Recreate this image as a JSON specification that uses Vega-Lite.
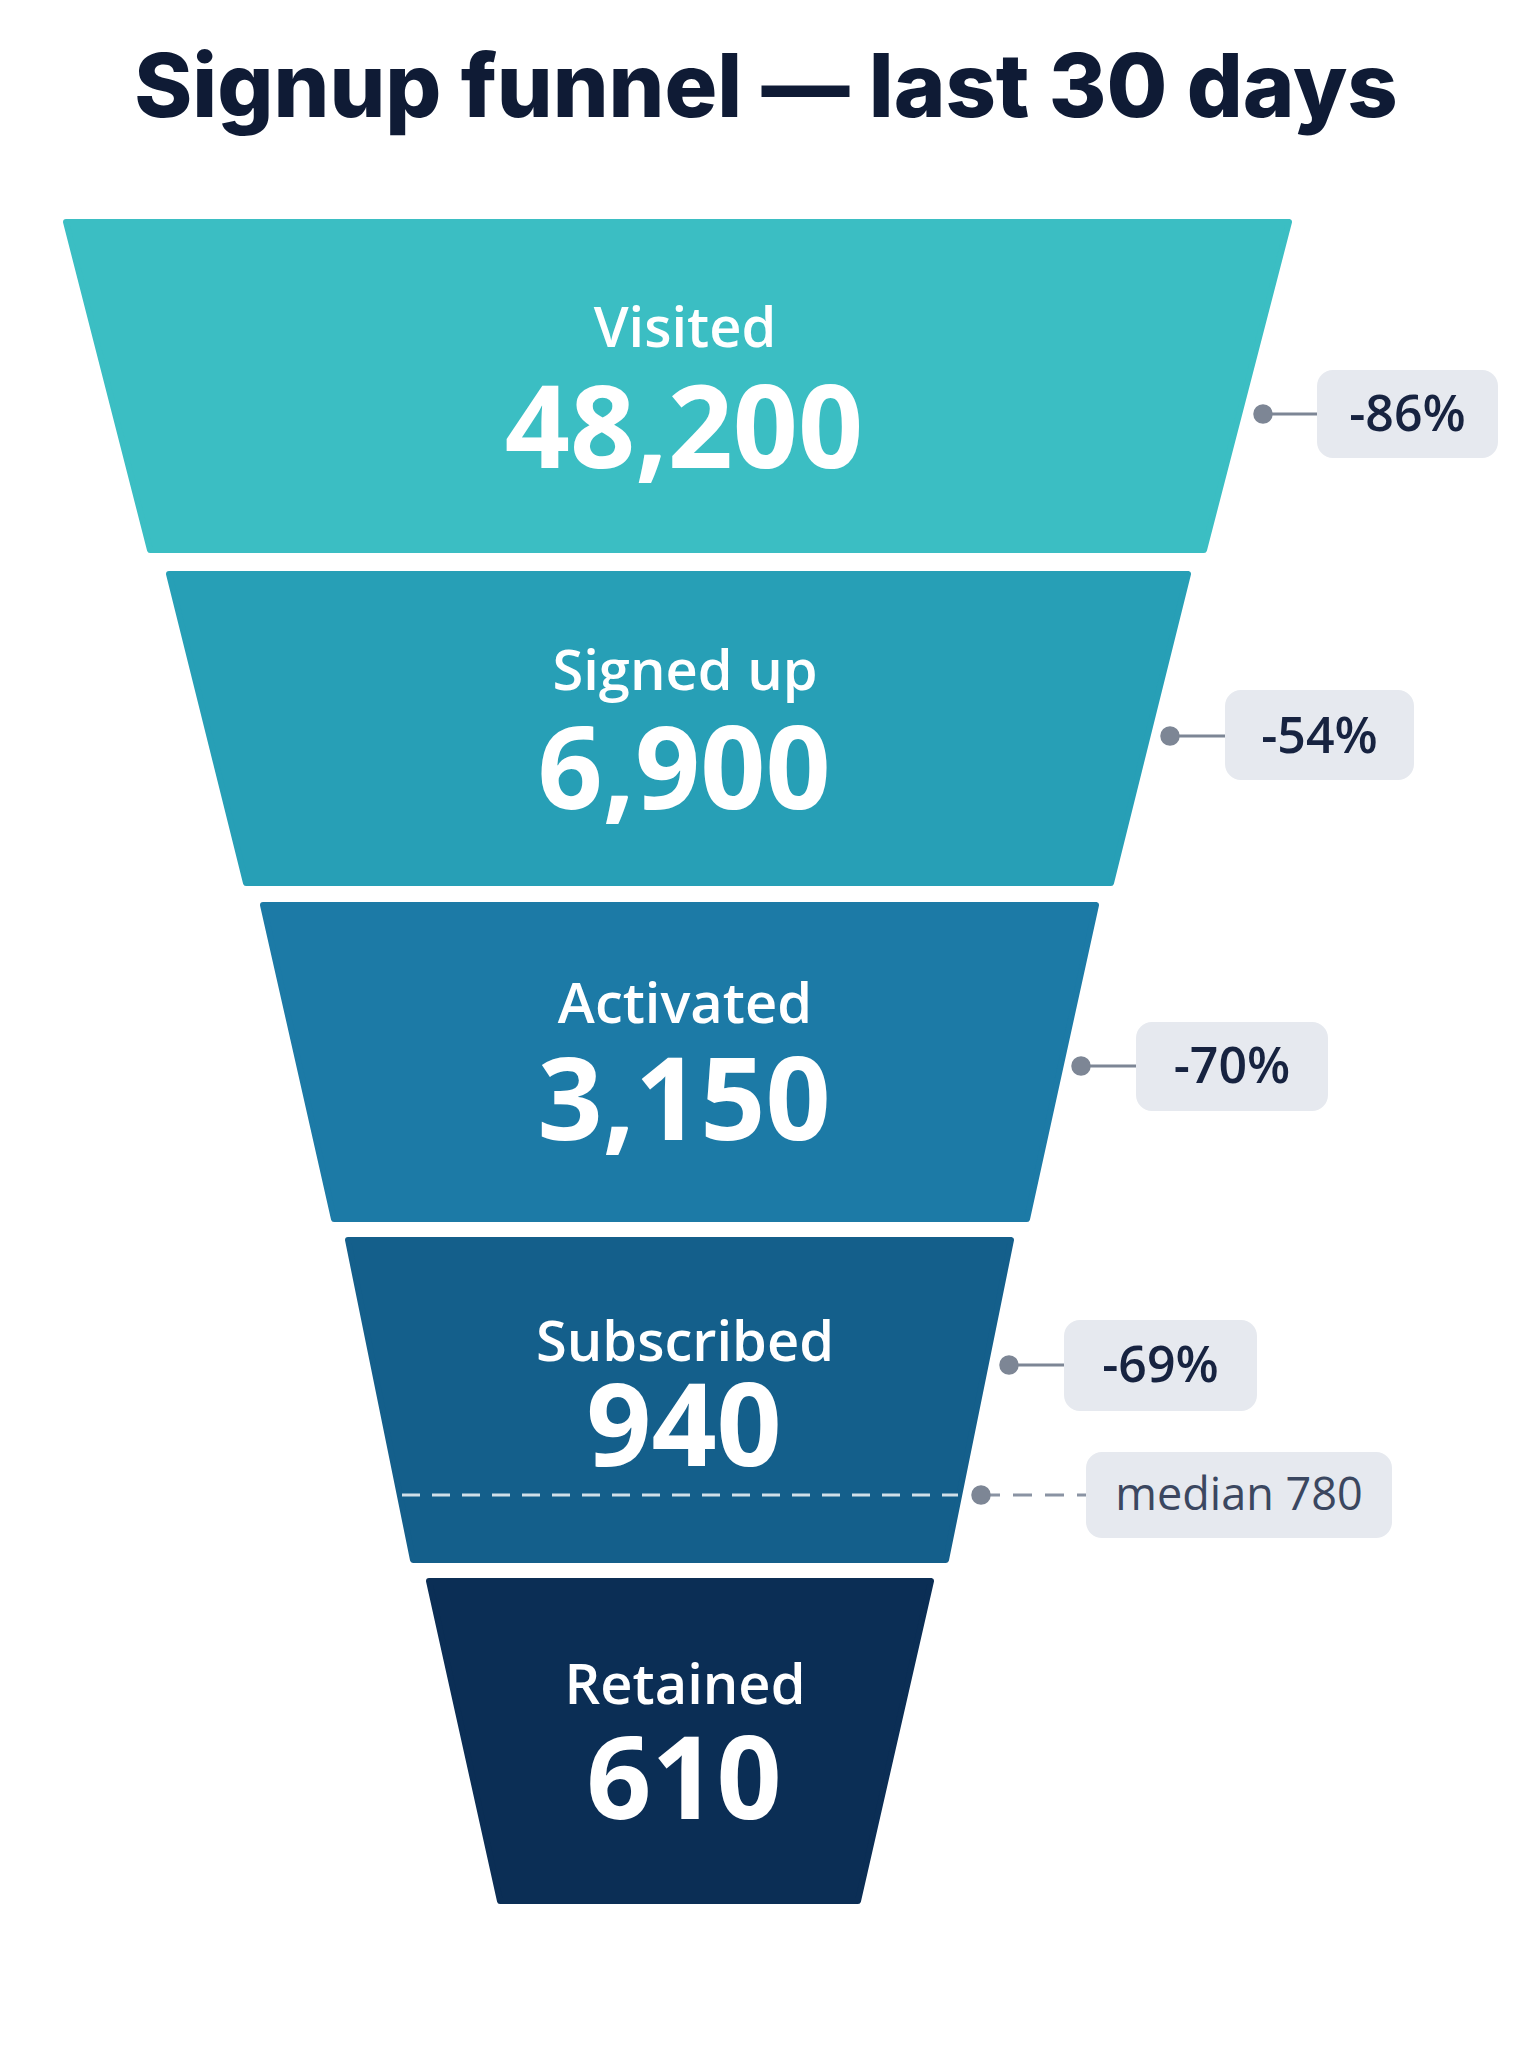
{
  "$schema": "https://vega.github.io/schema/vega-lite/v6.json",
  "width": 1536,
  "height": 2048,
  "autosize": {"type": "fit", "contains": "padding"},
  "padding": 0,
  "background": "#ffffff",
  "config": {"view": {"stroke": null}},
  "datasets": {
    "segments": [
      {"stage": "Visited", "y": 222, "xl": 66, "xr": 1289},
      {"stage": "Visited", "y": 550, "xl": 150, "xr": 1204},
      {"stage": "Signed up", "y": 574, "xl": 169, "xr": 1188},
      {"stage": "Signed up", "y": 883, "xl": 246, "xr": 1111},
      {"stage": "Activated", "y": 905, "xl": 263, "xr": 1096},
      {"stage": "Activated", "y": 1219, "xl": 334, "xr": 1027},
      {"stage": "Subscribed", "y": 1240, "xl": 348, "xr": 1011},
      {"stage": "Subscribed", "y": 1560, "xl": 413, "xr": 946},
      {"stage": "Retained", "y": 1581, "xl": 429, "xr": 931},
      {"stage": "Retained", "y": 1901, "xl": 500, "xr": 858}
    ],
    "stages": [
      {"stage": "Visited", "count": 48200, "labelY": 347, "valueY": 468},
      {"stage": "Signed up", "count": 6900, "labelY": 690, "valueY": 809},
      {"stage": "Activated", "count": 3150, "labelY": 1023, "valueY": 1140},
      {"stage": "Subscribed", "count": 940, "labelY": 1361, "valueY": 1466},
      {"stage": "Retained", "count": 610, "labelY": 1704, "valueY": 1819}
    ],
    "drops": [
      {"label": "-86%", "dotX": 1263, "y": 414, "boxX": 1317, "boxX2": 1498, "boxY": 370, "boxY2": 458},
      {"label": "-54%", "dotX": 1170, "y": 736, "boxX": 1225, "boxX2": 1414, "boxY": 690, "boxY2": 780},
      {"label": "-70%", "dotX": 1081, "y": 1066, "boxX": 1136, "boxX2": 1328, "boxY": 1022, "boxY2": 1111},
      {"label": "-69%", "dotX": 1009, "y": 1365, "boxX": 1064, "boxX2": 1257, "boxY": 1320, "boxY2": 1411}
    ],
    "median": [
      {"label": "median 780", "lineX": 402, "lineX2": 958, "dotX": 981, "y": 1495, "boxX": 1086, "boxX2": 1392, "boxY": 1452, "boxY2": 1538}
    ]
  },
  "encoding": {
    "x": {"type": "quantitative", "scale": {"domain": [0, 1536], "nice": false, "zero": false}, "axis": null},
    "y": {"type": "quantitative", "scale": {"domain": [0, 2048], "nice": false, "zero": false, "reverse": true}, "axis": null}
  },
  "layer": [
    {
      "data": {"name": "segments"},
      "mark": {"type": "area", "orient": "horizontal", "strokeWidth": 6, "strokeJoin": "round"},
      "encoding": {
        "y": {"field": "y", "type": "quantitative"},
        "x": {"field": "xl", "type": "quantitative"},
        "x2": {"field": "xr"},
        "color": {
          "field": "stage", "type": "nominal", "legend": null,
          "scale": {"domain": ["Visited", "Signed up", "Activated", "Subscribed", "Retained"],
                    "range": ["#3bbec3", "#279fb6", "#1c7aa6", "#145f8b", "#0b2e55"]}
        },
        "stroke": {
          "field": "stage", "type": "nominal", "legend": null,
          "scale": {"domain": ["Visited", "Signed up", "Activated", "Subscribed", "Retained"],
                    "range": ["#3bbec3", "#279fb6", "#1c7aa6", "#145f8b", "#0b2e55"]}
        }
      }
    },
    {
      "data": {"name": "stages"},
      "mark": {"type": "text", "font": "Open Sans", "fontWeight": 600, "fontSize": 56, "color": "#ffffff", "baseline": "alphabetic", "align": "center"},
      "encoding": {
        "x": {"datum": 685},
        "y": {"field": "labelY", "type": "quantitative"},
        "text": {"field": "stage"}
      }
    },
    {
      "data": {"name": "stages"},
      "mark": {"type": "text", "font": "Open Sans", "fontWeight": "bold", "fontSize": 114, "color": "#ffffff", "baseline": "alphabetic", "align": "center"},
      "encoding": {
        "x": {"datum": 684},
        "y": {"field": "valueY", "type": "quantitative"},
        "text": {"field": "count", "type": "quantitative", "format": ","}
      }
    },
    {
      "data": {"name": "median"},
      "mark": {"type": "rule", "stroke": "#ffffff", "strokeOpacity": 0.8, "strokeWidth": 3, "strokeDash": [18, 12]},
      "encoding": {
        "x": {"field": "lineX", "type": "quantitative"},
        "x2": {"field": "lineX2"},
        "y": {"field": "y", "type": "quantitative"}
      }
    },
    {
      "data": {"name": "median"},
      "mark": {"type": "rule", "stroke": "#8a93a3", "strokeWidth": 3, "strokeDash": [19, 13]},
      "encoding": {
        "x": {"field": "dotX", "type": "quantitative"},
        "x2": {"field": "boxX"},
        "y": {"field": "y", "type": "quantitative"}
      }
    },
    {
      "data": {"name": "drops"},
      "mark": {"type": "rule", "stroke": "#7d8695", "strokeWidth": 3},
      "encoding": {
        "x": {"field": "dotX", "type": "quantitative"},
        "x2": {"field": "boxX"},
        "y": {"field": "y", "type": "quantitative"}
      }
    },
    {
      "data": {"name": "drops"},
      "mark": {"type": "rect", "fill": "#e6e9ef", "cornerRadius": 16},
      "encoding": {
        "x": {"field": "boxX", "type": "quantitative"},
        "x2": {"field": "boxX2"},
        "y": {"field": "boxY", "type": "quantitative"},
        "y2": {"field": "boxY2"}
      }
    },
    {
      "data": {"name": "median"},
      "mark": {"type": "rect", "fill": "#e6e9ef", "cornerRadius": 16},
      "encoding": {
        "x": {"field": "boxX", "type": "quantitative"},
        "x2": {"field": "boxX2"},
        "y": {"field": "boxY", "type": "quantitative"},
        "y2": {"field": "boxY2"}
      }
    },
    {
      "data": {"name": "drops"},
      "mark": {"type": "circle", "size": 380, "color": "#7d8695", "opacity": 1},
      "encoding": {
        "x": {"field": "dotX", "type": "quantitative"},
        "y": {"field": "y", "type": "quantitative"}
      }
    },
    {
      "data": {"name": "median"},
      "mark": {"type": "circle", "size": 380, "color": "#7d8695", "opacity": 1},
      "encoding": {
        "x": {"field": "dotX", "type": "quantitative"},
        "y": {"field": "y", "type": "quantitative"}
      }
    },
    {
      "data": {"name": "drops"},
      "transform": [{"calculate": "(datum.boxX + datum.boxX2) / 2", "as": "cx"}],
      "mark": {"type": "text", "font": "Open Sans", "fontWeight": 600, "fontSize": 50, "color": "#172340", "baseline": "middle", "align": "center", "dy": 2},
      "encoding": {
        "x": {"field": "cx", "type": "quantitative"},
        "y": {"field": "y", "type": "quantitative"},
        "text": {"field": "label"}
      }
    },
    {
      "data": {"name": "median"},
      "transform": [{"calculate": "(datum.boxX + datum.boxX2) / 2", "as": "cx"}],
      "mark": {"type": "text", "font": "Open Sans", "fontWeight": "normal", "fontSize": 45, "color": "#3b4760", "baseline": "middle", "align": "center", "dy": 1},
      "encoding": {
        "x": {"field": "cx", "type": "quantitative"},
        "y": {"field": "y", "type": "quantitative"},
        "text": {"field": "label"}
      }
    },
    {
      "data": {"values": [{"title": "Signup funnel — last 30 days"}]},
      "mark": {"type": "text", "font": "Inter", "fontWeight": 800, "fontSize": 88, "color": "#0f1b35", "baseline": "alphabetic", "align": "center"},
      "encoding": {
        "x": {"datum": 766},
        "y": {"datum": 117},
        "text": {"field": "title"}
      }
    }
  ]
}
